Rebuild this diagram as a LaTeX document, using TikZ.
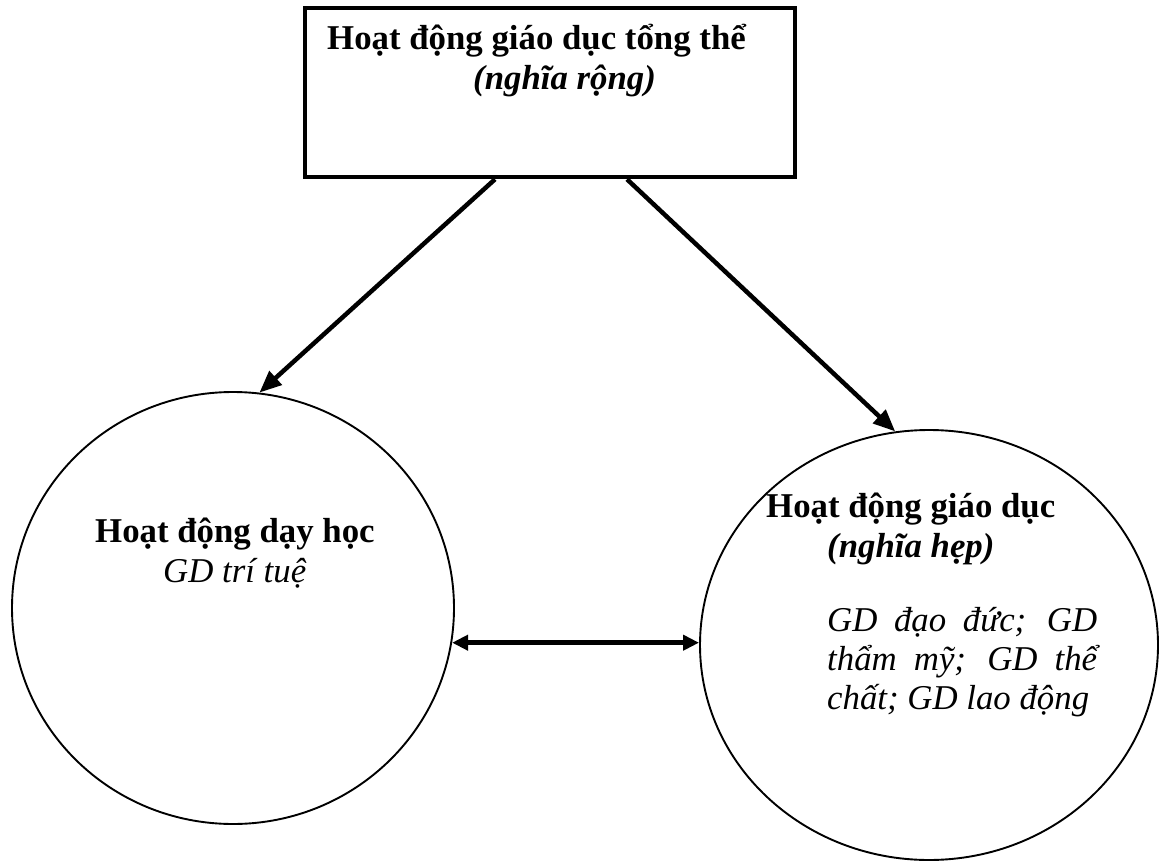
\documentclass[tikz,border=0pt]{standalone}
\usepackage{fontspec}
\setmainfont{Liberation Serif}
\usetikzlibrary{shapes.geometric,arrows.meta}
\begin{document}
\begin{tikzpicture}[x=1pt,y=-1pt,
  boxstyle/.style={draw,line width=4.5pt,rectangle,minimum width=490pt,minimum height=169pt,inner sep=0pt},
  circstyle/.style={draw,line width=1.9pt,ellipse,inner sep=0pt},
  txt/.style={anchor=base west,inner sep=0pt,font=\fontsize{34.8}{39}\selectfont},
  arr/.style={line width=4.5pt,-{Triangle[length=22pt,width=18pt]}},
  darr/.style={line width=4.5pt,{Triangle[length=16pt,width=15pt]}-{Triangle[length=16pt,width=15pt]}}]
\useasboundingbox (0,0) rectangle (1159,861);
\node[boxstyle] (top) at (550,92.5) {};
\node[circstyle,minimum width=442pt,minimum height=432pt] (dh) at (233,608) {};
\node[circstyle,minimum width=458pt,minimum height=430pt] (gd) at (929,645) {};
\node[txt] (t1) at (327,50) {\bfseries Hoạt động giáo dục tổng thể};
\node[txt] (t2) at (473,90) {\bfseries\itshape (nghĩa rộng)};
\node[txt] (l1) at (95,542) {\bfseries Hoạt động dạy học};
\node[txt] (l2) at (163,582) {\itshape GD trí tuệ};
\node[txt] (r1) at (766,517) {\bfseries Hoạt động giáo dục};
\node[txt] (r2) at (827,557) {\bfseries\itshape (nghĩa hẹp)};
\node[txt,align=left] (r3) at (827,709) {\itshape\makebox[270pt][s]{GD đạo đức; GD}\\\itshape\makebox[270pt][s]{thẩm mỹ; GD thể}\\\itshape chất; GD lao động};
\draw[arr] ([xshift=-55pt]top.south) -- (dh.83);
\draw[arr] ([xshift=77pt]top.south) -- (gd.99);
\draw[darr] (dh.-9.5) -- (dh.-9.5 -| gd.west);
\end{tikzpicture}
\end{document}
